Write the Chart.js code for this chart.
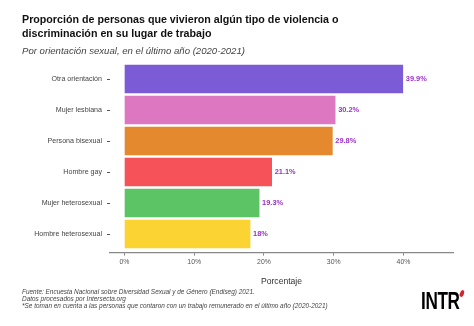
<!DOCTYPE html>
<html>
<head>
<meta charset="utf-8">
<script src="https://cdn.jsdelivr.net/npm/chart.js@4"></script>
<style>
  body { margin: 0; background: #fff; font-family: "Liberation Sans", Arial, sans-serif; }
  #wrap { position: relative; width: 474px; height: 326px; overflow: hidden; }
  #myChart { position: absolute; left: 0; top: 0; }
  .title { position: absolute; left: 22px; top: 12px; font-size: 10.7px; line-height: 14px; font-weight: bold; color: #111; }
  .subtitle { position: absolute; left: 22px; top: 45px; font-size: 9.6px; line-height: 12px; font-style: italic; color: #444; }
  .footer { position: absolute; left: 22px; top: 289px; font-size: 6.43px; line-height: 6.8px; font-style: italic; color: #444; white-space: nowrap; }
  .logo { position: absolute; left: 421px; top: 288.6px; font-weight: bold; font-size: 24.5px; line-height: 24.5px; letter-spacing: -0.5px; color: #000; transform: scaleX(0.7); transform-origin: left top; }
  .logo-mark { position: absolute; left: 459.5px; top: 289.5px; width: 4px; height: 7px; background: #d3252e; border-radius: 50% 50% 50% 50% / 60% 60% 40% 40%; transform: rotate(20deg); }
</style>
</head>
<body>
<div id="wrap">
  <canvas id="myChart" width="474" height="326"></canvas>
  <div class="title">Proporción de personas que vivieron algún tipo de violencia o<br>discriminación en su lugar de trabajo</div>
  <div class="subtitle">Por orientación sexual, en el último año (2020-2021)</div>
  <div class="footer">Fuente: Encuesta Nacional sobre Diversidad Sexual y de Género (Endiseg) 2021.<br>Datos procesados por Intersecta.org<br>*Se toman en cuenta a las personas que contaron con un trabajo remunerado en el último año (2020-2021)</div>
  <div class="logo">INTR</div>
  <div class="logo-mark"></div>
</div>
<script>
// categories, top to bottom
const categories = ['Otra orientación', 'Mujer lesbiana', 'Persona bisexual', 'Hombre gay', 'Mujer heterosexual', 'Hombre heterosexual'];
// percentages
const values = [39.9, 30.2, 29.8, 21.1, 19.3, 18];
const barColors = ['#7B5BD6', '#DD77C1', '#E5892F', '#F6525A', '#5CC464', '#FBD332'];
const xTicks = [0, 10, 20, 30, 40];

// draws the percentage next to every bar
const valueLabels = {
    id: 'valueLabels',
    afterDatasetsDraw(chart) {
        const ctx = chart.ctx;
        const meta = chart.getDatasetMeta(0);
        ctx.save();
        ctx.font = 'bold 7.4px "Liberation Sans", Arial, sans-serif';
        ctx.fillStyle = '#9A30C9';
        ctx.textBaseline = 'middle';
        ctx.textAlign = 'left';
        meta.data.forEach((bar, i) => {
            ctx.fillText(values[i] + '%', bar.x + 3, bar.y);
        });
        ctx.restore();
    }
};

function initChart() {
    const ctx = document.getElementById('myChart').getContext('2d');
    return new Chart(ctx, {
        type: 'bar',
        data: {
            datasets: [{
                data: values.map((v, i) => ({ x: v, y: i })),
                backgroundColor: barColors,
                barThickness: 28,
                borderWidth: 0
            }]
        },
        options: {
            indexAxis: 'y',
            responsive: false,
            animation: false,
            layout: { padding: { top: 60.4, left: 0, right: 21, bottom: 39 } },
            plugins: {
                legend: { display: false },
                tooltip: { enabled: false }
            },
            scales: {
                x: {
                    type: 'linear',
                    position: 'bottom',
                    min: -2.08,
                    max: 47.1,
                    afterBuildTicks: (scale) => { scale.ticks = xTicks.map(v => ({ value: v })); },
                    afterFit: (scale) => { scale.height = 34.4; },
                    ticks: {
                        callback: (v) => v + '%',
                        font: { size: 6.9, family: '"Liberation Sans", Arial, sans-serif' },
                        color: '#555',
                        padding: 2,
                        maxRotation: 0
                    },
                    grid: { drawOnChartArea: false, drawTicks: true, tickLength: 3, color: '#888' },
                    border: { display: true, color: '#888', width: 1.2 },
                    title: {
                        display: true,
                        text: 'Porcentaje',
                        font: { size: 8.6, family: '"Liberation Sans", Arial, sans-serif' },
                        color: '#333',
                        padding: 0
                    }
                },
                y: {
                    type: 'linear',
                    reverse: true,
                    offset: false,
                    min: -0.6,
                    max: 5.6,
                    afterBuildTicks: (scale) => { scale.ticks = categories.map((c, i) => ({ value: i })); },
                    afterFit: (scale) => { scale.width = 110; },
                    ticks: {
                        callback: (v) => categories[v],
                        font: { size: 7.1, family: '"Liberation Sans", Arial, sans-serif' },
                        color: '#444',
                        padding: 5
                    },
                    grid: { offset: false, drawOnChartArea: false, drawTicks: true, tickLength: 3, color: '#555' },
                    border: { display: false }
                }
            }
        },
        plugins: [valueLabels]
    });
}

const chart = initChart();
</script>
</body>
</html>
